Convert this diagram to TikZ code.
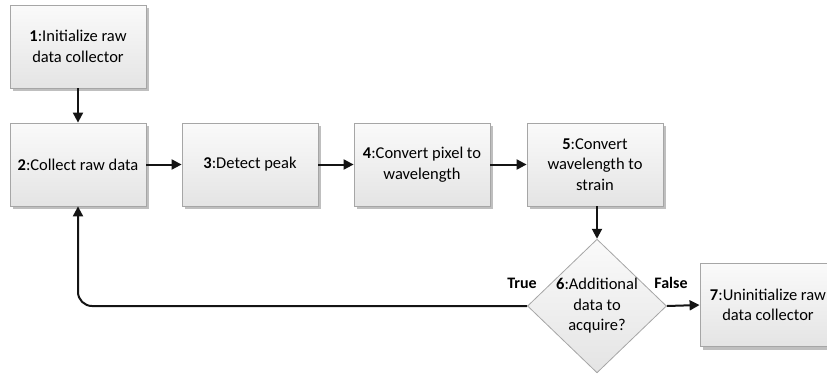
\documentclass[tikz,border=0pt]{standalone}
\usepackage{fontspec}
\setmainfont{Carlito}
\usetikzlibrary{shapes.geometric,arrows.meta,shadows}
\definecolor{edgegray}{HTML}{A6A6A6}
\definecolor{filltop}{HTML}{FAFAFA}
\definecolor{fillbot}{HTML}{E4E4E4}
\definecolor{linedark}{HTML}{141414}
\tikzset{
  x=1pt, y=-1pt,
  stepbox/.style={draw=edgegray, line width=0.8pt, top color=filltop, bottom color=fillbot,
    minimum width=136pt, minimum height=83pt, align=center,
    font=\fontsize{16.5}{20.5}\selectfont,
    drop shadow={shadow xshift=3pt, shadow yshift=-3pt, fill=black!25, opacity=1}},
  decision/.style={diamond, draw=edgegray, line width=0.8pt, top color=filltop, bottom color=fillbot,
    minimum width=133pt, minimum height=128pt, inner sep=0pt, aspect=1.04, align=center,
    font=\fontsize{16.5}{20.5}\selectfont},
  flow/.style={draw=linedark, line width=2pt, -{Triangle[length=10pt,width=10pt]}},
  branch/.style={font=\bfseries\fontsize{16}{18}\selectfont}
}
\begin{document}
\begin{tikzpicture}
\useasboundingbox (0,0) rectangle (827,373);
\clip (0,0) rectangle (827,373);
\node[stepbox] (s1) at (78,46.5) {\textbf{1}:Initialize raw\\data collector};
\node[stepbox] (s2) at (78,164.5) {\textbf{2}:Collect raw data};
\node[stepbox] (s3) at (250,164.5) {\textbf{3}:Detect peak};
\node[stepbox] (s4) at (422,164.5) {\textbf{4}:Convert pixel to\\wavelength};
\node[stepbox] (s5) at (595,164.5) {\textbf{5}:Convert\\wavelength to\\strain};
\node[decision] (s6) at (597,306) {\textbf{6}:Additional\\data to\\acquire?};
\node[stepbox] (s7) at (768,305) {\textbf{7}:Uninitialize raw\\data collector};
\coordinate (bend) at (78,306);
\draw[flow] (s1) -- (s2);
\draw[flow] (s2) -- (s3);
\draw[flow] (s3) -- (s4);
\draw[flow] (s4) -- (s5);
\draw[flow] (s5.south -| s6.north) -- (s6.north);
\draw[flow] (s6.east) -- (s7.west);
\draw[flow, rounded corners=14pt] (s6.west) -- (bend) -- (s2.south);
\node[branch] (tl) at (522,283) {True};
\node[branch] (fl) at (671,283) {False};
\end{tikzpicture}
\end{document}
